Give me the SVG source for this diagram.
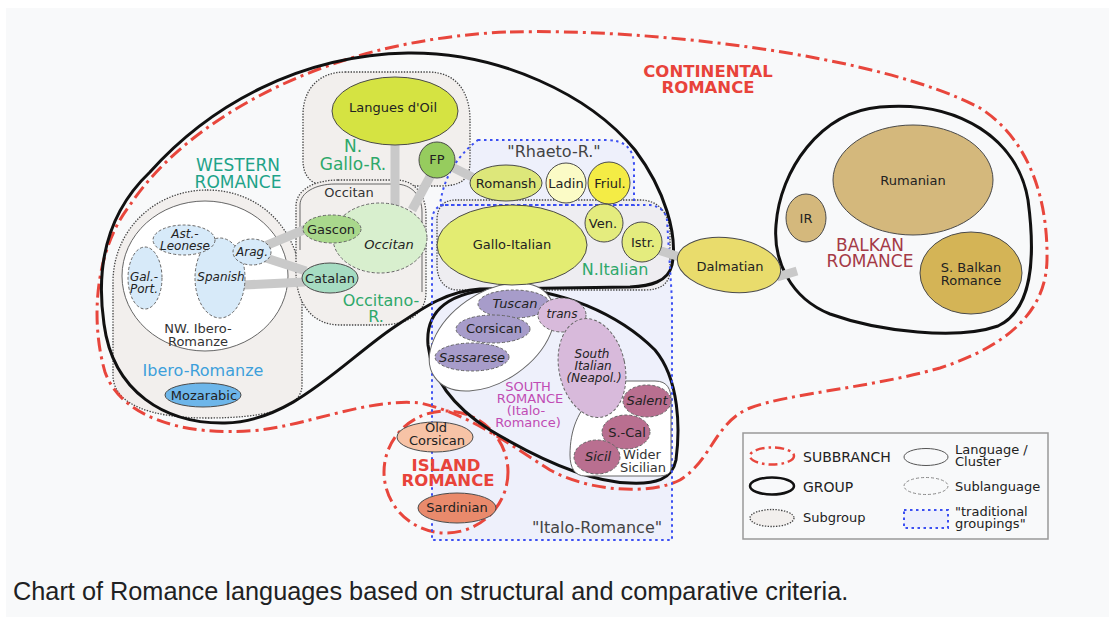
<svg xmlns="http://www.w3.org/2000/svg" width="1115" height="617" viewBox="0 0 1115 617">
<style>
.sb{fill:none;stroke:#e8463c;stroke-width:3;stroke-dasharray:14 5 3 5}
.grp{fill:none;stroke:#111;stroke-width:3}
.sg{fill:#f2efed;stroke:#444;stroke-width:1.3;stroke-dasharray:1.4 1.4}
.cl{fill:#fff;stroke:#666;stroke-width:1}
.clo{fill:none;stroke:#666;stroke-width:1}
.trf{fill:#eef0fb;stroke:none}
.trs{fill:none;stroke:#3b4ff2;stroke-width:2;stroke-dasharray:2.5 3.5}
.lk{stroke:#c9c9c9;stroke-width:9;fill:none}
.lang{stroke:#4a4a4a;stroke-width:1}
.sub{stroke:#666;stroke-width:1;stroke-dasharray:3 2}
text{font-family:"DejaVu Sans","Liberation Sans",sans-serif;fill:#222}
.t{font-size:13px;text-anchor:middle}
.ts{font-size:12px;text-anchor:middle}
.i{font-style:italic}
.big{font-size:17px;text-anchor:middle}
.mid{font-size:16px;text-anchor:middle}
.red{fill:#e8433a;font-weight:bold;font-size:16.5px;text-anchor:middle}
.grn{fill:#2ea86a}
.sr{font-size:13px;text-anchor:middle;fill:#c04cb4}
.lg{font-size:13px}
</style>
<rect width="1115" height="617" fill="#ffffff"/>
<rect x="6" y="8" width="1103" height="609" fill="#f8f9fa"/>

<g id="traditional-fills">
<path class="trf" d="M445,205 L650,205 Q665,207 667,220 L672,300 L672,540 L432,540 L432,220 Q433,206 445,205 Z"/>
<path class="trf" d="M478,140 L606,140 Q634,140 634,166 L634,205 L440,205 Q445,165 478,140 Z"/>
</g>

<g id="subgroups">
<path id="sg-ibero" class="sg" d="M207,190 C262,190 302,232 302,292 L302,385 C302,410 262,418 207,418 C152,418 113,405 113,375 L113,282 C113,230 155,190 207,190 Z"/>
<path id="sg-ngallo" class="sg" d="M345,72 L428,72 C458,72 470,94 470,120 L470,162 C470,180 460,186 440,186 L330,186 C312,186 303,177 303,160 L303,115 C303,88 320,72 345,72 Z"/>
<path id="sg-occitano" class="sg" d="M338,180 L396,180 C415,180 426,195 426,215 L426,292 C426,315 406,325 380,325 L340,325 C311,325 296,302 296,272 L296,206 C296,190 314,180 338,180 Z"/>
<path id="sg-nitalian" class="sg" style="fill:#eeedf1" d="M455,200 L640,200 C660,200 670,215 670,235 L670,270 C670,284 660,290 645,290 L458,290 C445,290 437,280 437,265 L437,220 C437,207 444,200 455,200 Z"/>
</g>

<g id="groups">
<path id="continental" class="sb" d="M510,32 C650,28 880,55 980,108 C1030,140 1048,200 1047,260 C1046,310 1010,345 940,368 C870,388 790,393 750,408 C715,422 712,460 680,480 C650,495 590,492 550,470 C510,445 470,414 420,403 C370,398 310,424 260,430 C180,438 120,415 105,372 C90,320 95,250 130,205 C180,130 280,75 380,50 C420,40 470,33 510,32 Z"/>
<ellipse id="island" class="sb" cx="446" cy="472" rx="62" ry="61"/>
<path id="western" class="grp" d="M408,53 C500,52 590,95 635,150 C665,190 678,235 672,265 C668,282 650,286 630,287 L480,289 C445,291 420,310 390,330 C340,365 290,422 225,423 C165,424 113,392 104,324 C95,262 110,210 150,172 C210,105 300,55 408,53 Z"/>
<path id="south" class="grp" d="M500,289 C560,287 620,315 655,350 C680,380 680,430 676,460 C672,480 655,484 630,483 C590,482 540,460 490,430 C455,408 432,380 428,345 C425,310 450,291 500,289 Z"/>
<path id="balkan" class="grp" d="M880,107 C960,100 1018,140 1028,200 C1036,260 1032,310 998,326 C958,340 880,332 830,314 C790,298 773,260 776,225 C780,170 820,112 880,107 Z"/>
</g>

<g id="traditional-outlines">
<path class="trs" d="M445,205 L650,205 Q665,207 667,220 L672,300 L672,540 L432,540 L432,220 Q433,206 445,205 Z"/>
<path class="trs" d="M478,140 L606,140 Q634,140 634,166 L634,205 L440,205 Q445,165 478,140 Z"/>
</g>

<g id="clusters">
<ellipse id="cl-nwibero" class="cl" cx="205" cy="276" rx="83" ry="75"/>
<path id="cl-occitan" class="clo" d="M300,250 L300,205 C300,193 315,184 335,184 L395,184 C412,184 422,196 422,212 L422,292"/>
<ellipse id="cl-tuscan" class="cl" cx="492" cy="337" rx="70" ry="44" transform="rotate(-35 492 337)"/>
<path id="cl-sicilian" class="cl" d="M610,381 L655,381 C668,381 671,390 671,400 L671,468 C671,474 666,476 658,476 L585,476 C575,476 570,468 570,455 C570,430 578,410 595,395 C600,388 604,381 610,381 Z"/>
</g>

<g id="connectors">
<line class="lk" x1="395" y1="143" x2="395" y2="206"/>
<line class="lk" x1="432" y1="173" x2="412" y2="210"/>
<line class="lk" x1="452" y1="167" x2="474" y2="178"/>
<line class="lk" x1="265" y1="246" x2="306" y2="229"/>
<line class="lk" x1="266" y1="258" x2="306" y2="271"/>
<line class="lk" x1="243" y1="285" x2="305" y2="282"/>
<line class="lk" x1="658" y1="250" x2="683" y2="258"/>
<line class="lk" x1="777" y1="277" x2="797" y2="271"/>
</g>

<g id="n-langues-doil"><ellipse class="lang" cx="395" cy="111" rx="63" ry="34" fill="#d5e342"/><text class="t" x="393" y="112">Langues d'Oil</text></g>
<g id="n-fp"><circle class="lang" cx="437" cy="160" r="18" fill="#96cc5e"/><text class="t" x="437" y="164">FP</text></g>
<g id="n-occitan"><ellipse class="sub" cx="380" cy="238" rx="47" ry="35" fill="#d8efce"/><text class="t i" x="389" y="249">Occitan</text></g>
<g id="n-gascon"><ellipse class="sub" cx="332" cy="229" rx="29" ry="14" fill="#a9d88c"/><text class="t" x="331" y="234">Gascon</text></g>
<g id="n-catalan"><ellipse class="lang" cx="330" cy="278" rx="28" ry="15" fill="#a6dcc2"/><text class="t" x="330" y="283">Catalan</text></g>
<g id="n-spanish"><ellipse class="sub" cx="220" cy="278" rx="25" ry="40" fill="#d7eaf9"/><text class="ts i" x="221" y="281">Spanish</text></g>
<g id="n-ast-leonese"><ellipse class="sub" cx="184" cy="240" rx="31" ry="15" fill="#d7eaf9"/><text class="ts i" x="185" y="237.5">Ast.-</text><text class="ts i" x="185" y="250">Leonese</text></g>
<g id="n-gal-port"><ellipse class="sub" cx="145" cy="278" rx="17" ry="31" fill="#d7eaf9"/><text class="ts i" x="144" y="281">Gal.-</text><text class="ts i" x="144" y="293">Port.</text></g>
<g id="n-arag"><ellipse class="sub" cx="252" cy="252" rx="19" ry="13" fill="#d7eaf9"/><text class="ts i" x="252" y="256">Arag.</text></g>
<g id="n-mozarabic"><ellipse class="lang" cx="203" cy="395" rx="38" ry="12" fill="#6db6ea" stroke="#222"/><text class="t" x="204" y="400">Mozarabic</text></g>
<g id="n-romansh"><ellipse class="lang" cx="506" cy="183" rx="36" ry="18" fill="#dde77a"/><text class="t" x="506" y="188">Romansh</text></g>
<g id="n-ladin"><circle class="lang" cx="566" cy="183" r="20" fill="#fbfbc6"/><text class="t" x="566" y="188">Ladin</text></g>
<g id="n-friul"><circle class="lang" cx="609" cy="183" r="21" fill="#f4ec45"/><text class="t" x="610" y="188">Friul.</text></g>
<g id="n-gallo-italian"><ellipse class="lang" cx="512" cy="245" rx="75" ry="40" fill="#e3ec72"/><text class="t" x="512" y="249">Gallo-Italian</text></g>
<g id="n-ven"><circle class="lang" cx="604" cy="223" r="19" fill="#e4ec7e"/><text class="t" x="603" y="228">Ven.</text></g>
<g id="n-istr"><circle class="lang" cx="642" cy="242" r="20" fill="#e4ec7e"/><text class="t" x="643" y="247">Istr.</text></g>
<g id="n-dalmatian"><ellipse class="lang" cx="729" cy="265" rx="52" ry="27" fill="#e9dc6c" transform="rotate(8 729 265)"/><text class="t" x="730" y="271">Dalmatian</text></g>
<g id="n-ir"><ellipse class="lang" cx="806" cy="218" rx="20" ry="24" fill="#d4b87c"/><text class="t" x="806" y="223">IR</text></g>
<g id="n-rumanian"><ellipse class="lang" cx="913" cy="180" rx="80" ry="55" fill="#d4b87c"/><text class="t" x="913" y="185">Rumanian</text></g>
<g id="n-s-balkan"><ellipse class="lang" cx="971" cy="273" rx="51" ry="41" fill="#d4b456"/><text class="t" x="971" y="272">S. Balkan</text><text class="t" x="971" y="285">Romance</text></g>
<g id="n-tuscan"><ellipse class="sub" cx="514" cy="304" rx="36" ry="14" fill="#a79cca"/><text class="t i" x="515" y="308">Tuscan</text></g>
<g id="n-corsican"><ellipse class="sub" cx="493" cy="329" rx="37" ry="14" fill="#a79cca"/><text class="t" x="494" y="333">Corsican</text></g>
<g id="n-sassarese"><ellipse class="sub" cx="472" cy="357" rx="37" ry="14" fill="#a79cca"/><text class="t i" x="472" y="362">Sassarese</text></g>
<g id="n-trans"><ellipse class="sub" cx="562" cy="315" rx="24" ry="17" fill="#d8badb"/><text class="ts i" x="562" y="318">trans</text></g>
<g id="n-south-italian"><ellipse class="sub" cx="592" cy="368" rx="33" ry="50" fill="#d8badb" transform="rotate(-12 592 368)"/><text class="ts i" x="592" y="358">South</text><text class="ts i" x="593" y="370">Italian</text><text class="ts i" x="594" y="382">(Neapol.)</text></g>
<g id="n-salent"><ellipse class="sub" cx="647" cy="401" rx="24" ry="16" fill="#b96f90"/><text class="t i" x="647" y="405">Salent</text></g>
<g id="n-s-cal"><ellipse class="sub" cx="626" cy="432" rx="24" ry="17" fill="#b96f90"/><text class="t" x="627" y="437">S.-Cal</text></g>
<g id="n-sicil"><ellipse class="sub" cx="597" cy="457" rx="23" ry="17" fill="#b96f90"/><text class="t i" x="598" y="461">Sicil</text></g>
<g id="n-old-corsican"><ellipse class="lang" cx="435" cy="437" rx="38" ry="15" fill="#f7c3a6"/><text class="t" x="436" y="432">Old</text><text class="t" x="437" y="445">Corsican</text></g>
<g id="n-sardinian"><ellipse class="lang" cx="457" cy="508" rx="39" ry="15" fill="#e98a6c"/><text class="t" x="457" y="512">Sardinian</text></g>

<g id="labels">
<text class="red" x="708" y="77">CONTINENTAL</text>
<text class="red" x="708" y="93">ROMANCE</text>
<text class="big" x="238" y="171" style="fill:#1ea389">WESTERN</text>
<text class="big" x="238" y="188" style="fill:#1ea389">ROMANCE</text>
<text class="big grn" x="353" y="152">N.</text>
<text class="big grn" x="353" y="170">Gallo-R.</text>
<text class="mid grn" x="381" y="306">Occitano-</text>
<text class="mid grn" x="376" y="322">R.</text>
<text class="mid grn" x="615" y="275">N.Italian</text>
<text class="mid" x="203" y="376" style="fill:#3d9fdb">Ibero-Romanze</text>
<text class="t" x="198" y="333" style="fill:#333">NW. Ibero-</text>
<text class="t" x="198" y="346" style="fill:#333">Romanze</text>
<text class="t" x="349" y="197" style="fill:#333">Occitan</text>
<text class="mid" x="554" y="157" style="fill:#444">"Rhaeto-R."</text>
<text class="mid" x="597" y="533" style="fill:#444">"Italo-Romance"</text>
<text class="big" x="870" y="251" style="fill:#a43a46">BALKAN</text>
<text class="big" x="870" y="267" style="fill:#a43a46">ROMANCE</text>
<text class="sr" x="528" y="391">SOUTH</text>
<text class="sr" x="530" y="403">ROMANCE</text>
<text class="sr" x="526" y="415">(Italo-</text>
<text class="sr" x="528" y="427">Romance)</text>
<text class="t" x="642" y="459" style="fill:#333">Wider</text>
<text class="t" x="643" y="472" style="fill:#333">Sicilian</text>
<text class="red" x="446" y="471">ISLAND</text>
<text class="red" x="448" y="486">ROMANCE</text>
</g>

<g id="legend">
<rect x="743" y="433" width="305" height="106" fill="#f8f9fa" stroke="#999" stroke-width="1.5"/>
<ellipse cx="772" cy="456" rx="22" ry="8.5" fill="none" stroke="#e8463c" stroke-width="2.5" stroke-dasharray="9 4 2.5 4"/>
<text class="lg" x="803" y="462" style="font-size:14px">SUBBRANCH</text>
<ellipse cx="772" cy="486" rx="22" ry="8.5" fill="none" stroke="#111" stroke-width="2.5"/>
<text class="lg" x="803" y="492" style="font-size:14px">GROUP</text>
<ellipse cx="772" cy="518" rx="22" ry="8.5" class="sg"/>
<text class="lg" x="803" y="522">Subgroup</text>
<ellipse cx="926" cy="457" rx="22" ry="8.5" fill="none" stroke="#555" stroke-width="1"/>
<text class="lg" x="955" y="454">Language /</text>
<text class="lg" x="955" y="466">Cluster</text>
<ellipse cx="926" cy="486" rx="22" ry="8.5" fill="none" stroke="#888" stroke-width="1" stroke-dasharray="3 2"/>
<text class="lg" x="955" y="491">Sublanguage</text>
<rect x="904" y="510" width="44" height="18" fill="#eef0fb" stroke="#3b4ff2" stroke-width="2" stroke-dasharray="2.5 3.5"/>
<text class="lg" x="955" y="516">"traditional</text>
<text class="lg" x="955" y="528">groupings"</text>
</g>

<text x="13" y="600" style="font-family:'Liberation Sans',Arial,sans-serif;font-size:25.3px;fill:#202122">Chart of Romance languages based on structural and comparative criteria.</text>
</svg>
